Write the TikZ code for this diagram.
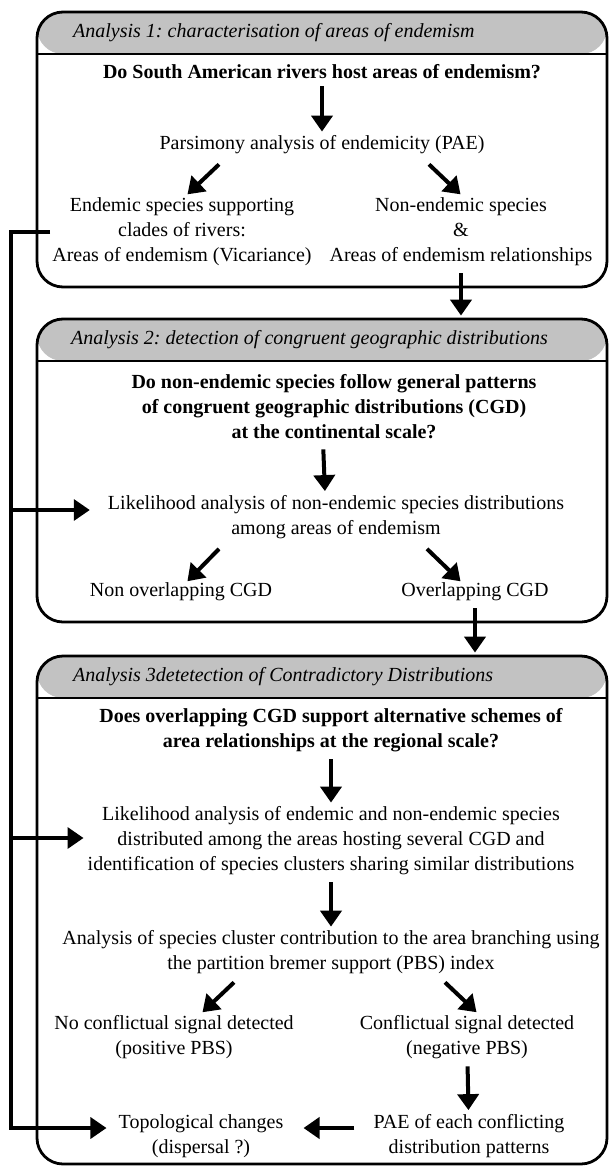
\documentclass[tikz,border=0pt]{standalone}
\usepackage{fontspec}
\setmainfont{Liberation Serif}
\usetikzlibrary{positioning,calc,arrows.meta}
\definecolor{headgray}{HTML}{C2C2C2}
\newcommand{\txtsize}{\fontsize{20}{25}\selectfont}
\frenchspacing

\begin{document}
\begin{tikzpicture}[x=1pt,y=1pt,
      arrowstyle/.style={-{Triangle[length=16pt,width=21pt]}, line width=4pt, shorten <=5pt, shorten >=2pt}]
      % Panel and text styles
      \tikzstyle{panel} = [draw, line width=2.8pt, rounded corners=26pt, minimum width=570pt, inner sep=0pt,
        path picture={\fill[headgray] (path picture bounding box.north west) rectangle ([yshift=-42pt]path picture bounding box.north east);
          \draw[line width=2.4pt] ([yshift=-42pt]path picture bounding box.north west) -- ([yshift=-42pt]path picture bounding box.north east);}]
      \tikzstyle{headnode} = [anchor=west, font=\txtsize\itshape, inner sep=0pt]
      \tikzstyle{textnode} = [align=center, font=\txtsize, inner sep=2pt]
      \tikzstyle{asknode} = [align=center, font=\txtsize\bfseries, inner sep=2pt]

      \useasboundingbox (0,0) rectangle (612,-1167);

      % The three panels
      \node (box1) [panel, minimum height=275pt] at (322,-149.5) {};
      \node (box2) [panel, minimum height=303pt] at (322,-470.5) {};
      \node (box3) [panel, minimum height=508pt] at (322,-910) {};

      % Analysis 1
      \node (head1)  [headnode] at (73,-33) {Analysis 1: characterisation of areas of endemism};
      \node (ask1)   [asknode] at (322,-72) {Do South American rivers host areas of endemism?};
      \node (pae)    [textnode] at (322,-145) {Parsimony analysis of endemicity (PAE)};
      \node (ende)   [textnode] at (182,-232) {Endemic species supporting\\clades of rivers:\\Areas of endemism (Vicariance)};
      \node (nonend) [textnode] at (461,-232) {Non-endemic species\\\&\\Areas of endemism relationships};

      \draw[arrowstyle] (ask1) -- (pae);
      \draw[arrowstyle, shorten <=0pt] ([shift={(-103pt,-8pt)}]pae.south) -- ([xshift=4pt]ende.north);
      \draw[arrowstyle, shorten <=0pt] ([shift={(107pt,-8pt)}]pae.south) -- ([xshift=1pt]nonend.north);

      % Analysis 2
      \node (head2) [headnode] at (71,-340) {Analysis 2: detection of congruent geographic distributions};
      \node (ask2)  [asknode] at (334,-407) {Do non-endemic species follow general patterns\\of congruent geographic distributions (CGD)\\at the continental scale?};
      \node (lik2)  [textnode] at (336,-517) {Likelihood analysis of non-endemic species distributions\\among areas of endemism};
      \node (nonov) [textnode] at (181,-592) {Non overlapping CGD};
      \node (ov)    [textnode] at (475,-592) {Overlapping CGD};

      \draw[arrowstyle] (nonend.south) -- (nonend.south |- box2.north);
      \draw[arrowstyle, shorten <=8pt] ([xshift=-11pt]ask2.south) -- ([xshift=-11pt]lik2.north);
      \draw[arrowstyle, shorten <=0pt] ([shift={(-117pt,-8pt)}]lik2.south) -- ([shift={(5pt,-2pt)}]nonov.north);
      \draw[arrowstyle, shorten <=0pt] ([shift={(91pt,-8pt)}]lik2.south) -- ([shift={(-13pt,-2pt)}]ov.north);

      % Analysis 3
      \node (head3)  [headnode] at (73,-677) {Analysis 3detetection of Contradictory Distributions};
      \node (ask3)   [asknode] at (331,-730.5) {Does overlapping CGD support alternative schemes of\\area relationships at the regional scale?};
      \node (lik3)   [textnode] at (331,-841) {Likelihood analysis of endemic and non-endemic species\\distributed among the areas hosting several CGD and\\identification of species clusters sharing similar distributions};
      \node (pbs)    [textnode] at (331,-952.5) {Analysis of species cluster contribution to the area branching using\\the partition bremer support (PBS) index};
      \node (noconf) [textnode] at (174,-1037.5) {No conflictual signal detected\\(positive PBS)};
      \node (conf)   [textnode] at (467,-1037.5) {Conflictual signal detected\\(negative PBS)};
      \node (paeall) [textnode] at (469,-1136) {PAE of each conflicting\\distribution patterns};
      \node (topo)   [textnode] at (201,-1136) {Topological changes\\(dispersal ?)};

      \draw[arrowstyle] (ov.south) -- (ov.south |- box3.north);
      \draw[arrowstyle] (ask3) -- (lik3);
      \draw[arrowstyle] (lik3) -- (pbs);
      \draw[arrowstyle, shorten <=0pt] ([shift={(-97pt,-6pt)}]pbs.south) -- ([xshift=27pt]noconf.north);
      \draw[arrowstyle, shorten <=0pt] ([shift={(114pt,-6pt)}]pbs.south) -- ([xshift=11pt]conf.north);
      \draw[arrowstyle] (conf) -- (paeall);
      \draw[arrowstyle, shorten <=17pt, shorten >=18pt] ([yshift=8pt]paeall.west) -- ([yshift=8pt]topo.east);

      % Feedback rail on the left
      \coordinate (rail) at (11,0);
      \coordinate (lik2in) at ([yshift=7pt]lik2.west);
      \coordinate (lik3in) at ([yshift=3pt]lik3.west);
      \coordinate (topoin) at ([yshift=8pt]topo.west);
      \draw[arrowstyle, line width=3.5pt, shorten <=0pt, shorten >=10pt] (ende.west) -- (ende.west -| rail) |- (topoin);
      \draw[arrowstyle, line width=3.5pt, shorten <=0pt, shorten >=16pt] (rail |- lik2in) -- (lik2in);
      \draw[arrowstyle, line width=3.5pt, shorten <=0pt] (rail |- lik3in) -- (lik3in);
\end{tikzpicture}
\end{document}
